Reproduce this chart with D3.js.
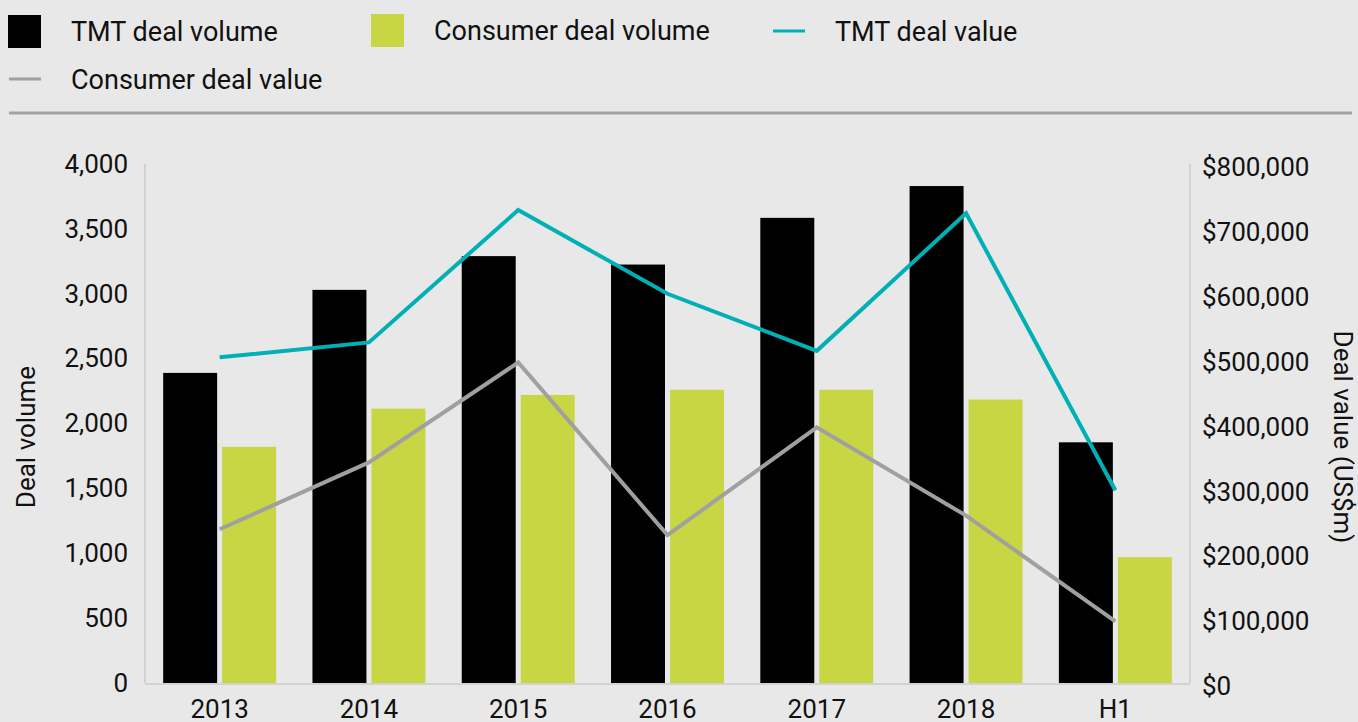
<!DOCTYPE html>
<html><head><meta charset="utf-8">
<script src="https://cdn.jsdelivr.net/npm/d3@7"></script>
<style>
html,body{margin:0;padding:0;background:#e8e8e8;}
svg{display:block;font-family:Roboto,"Noto Sans",sans-serif;}
</style></head>
<body>
<svg id="c" width="1358" height="722"></svg>
<script>
const categories = ["2013","2014","2015","2016","2017","2018","H1"];
const tmtVolume = [2390, 3030, 3290, 3225, 3585, 3830, 1855];
const consumerVolume = [1820, 2115, 2220, 2260, 2260, 2185, 970];
const tmtValue = [502000, 525000, 729000, 600000, 512000, 724000, 297000];
const consumerValue = [237000, 340000, 494000, 228000, 394000, 258000, 95000];
const leftTicks = [0,500,1000,1500,2000,2500,3000,3500,4000];
const rightTicks = [0,100000,200000,300000,400000,500000,600000,700000,800000];
const legendItems = [
  {label:"TMT deal volume", type:"rect", color:"#000000"},
  {label:"Consumer deal volume", type:"rect", color:"#c9d643"},
  {label:"TMT deal value", type:"line", color:"#00b0b5"},
  {label:"Consumer deal value", type:"line", color:"#a0a0a0"}
];

(function(){
const svg = d3.select("#c");
const W = 1358, H = 722;
svg.append("rect").attr("width",W).attr("height",H).attr("fill","#e8e8e8");

const pL = 145, pR = 1190, pT = 164, pB = 683;
const x = d3.scaleBand().domain(categories).range([pL,pR]).paddingInner(0).paddingOuter(0);
const yL = d3.scaleLinear().domain([0,4000]).range([pB,pT]);
const yR = d3.scaleLinear().domain([0,800000]).range([pB,pT]);
const inner = d3.scaleBand().domain(["tmt","con"]).range([0,x.bandwidth()]).paddingInner(0.085).paddingOuter(0.308);

// legend
const legPos = [[8,32],[371,31],[772,32],[8,80]];
legendItems.forEach((d,i)=>{
  const [lx,ly] = legPos[i];
  const g = svg.append("g");
  if(d.type==="rect"){
    g.append("rect").attr("x",lx).attr("y",ly-17).attr("width",33).attr("height",33).attr("fill",d.color);
  } else {
    g.append("line").attr("x1",lx+1).attr("x2",lx+33).attr("y1",ly-1).attr("y2",ly-1).attr("stroke",d.color).attr("stroke-width",3);
  }
  g.append("text").attr("x",lx+63).attr("y",ly).attr("dy","0.35em").attr("font-size",27).attr("fill","#111").text(d.label);
});
svg.append("line").attr("x1",9).attr("x2",1352).attr("y1",113).attr("y2",113).attr("stroke","#a3a3a3").attr("stroke-width",3);

// axes lines
const axisColor = "#d2d2d2";
svg.append("line").attr("x1",pL).attr("x2",pL).attr("y1",pT).attr("y2",pB).attr("stroke",axisColor).attr("stroke-width",2);
svg.append("line").attr("x1",pR).attr("x2",pR).attr("y1",pT).attr("y2",pB).attr("stroke",axisColor).attr("stroke-width",2);

// left axis
const gL = svg.append("g").attr("transform",`translate(${pL},0)`)
  .call(d3.axisLeft(yL).tickValues(leftTicks).tickFormat(d3.format(",")).tickSize(0).tickPadding(17));
gL.select(".domain").remove();
gL.selectAll("text").attr("font-size",26).attr("fill","#111").attr("font-family","Roboto");

const gR = svg.append("g").attr("transform",`translate(${pR},0)`)
  .call(d3.axisRight(yR).tickValues(rightTicks).tickFormat(d=>"$"+d3.format(",")(d)).tickSize(0).tickPadding(12));
gR.select(".domain").remove();
gR.selectAll("text").attr("font-size",26).attr("fill","#111").attr("font-family","Roboto").attr("dy","0.45em");

// bars
const groups = svg.append("g").selectAll("g").data(categories).join("g")
  .attr("transform",d=>`translate(${x(d)},0)`);
groups.append("rect").attr("x",inner("tmt")).attr("width",inner.bandwidth())
  .attr("y",(d,i)=>yL(tmtVolume[i])).attr("height",(d,i)=>pB-yL(tmtVolume[i])).attr("fill","#000");
groups.append("rect").attr("x",inner("con")).attr("width",inner.bandwidth())
  .attr("y",(d,i)=>yL(consumerVolume[i])).attr("height",(d,i)=>pB-yL(consumerVolume[i])).attr("fill","#c9d643");

// baseline
svg.append("line").attr("x1",pL).attr("x2",pR).attr("y1",pB+1).attr("y2",pB+1).attr("stroke",axisColor).attr("stroke-width",2);

// x axis
const gX = svg.append("g").attr("transform",`translate(0,${pB})`)
  .call(d3.axisBottom(x).tickSize(0).tickPadding(17));
gX.select(".domain").remove();
gX.selectAll("text").attr("font-size",26).attr("fill","#111").attr("font-family","Roboto");

// lines
const line = d3.line().x((d,i)=>x(categories[i])+x.bandwidth()/2).y(d=>yR(d));
svg.append("path").datum(consumerValue).attr("d",line).attr("fill","none").attr("stroke","#a0a0a0").attr("stroke-width",4);
svg.append("path").datum(tmtValue).attr("d",line).attr("fill","none").attr("stroke","#00b0b5").attr("stroke-width",4);

// axis titles
svg.append("text").attr("transform","translate(35,437) rotate(-90)").attr("text-anchor","middle")
  .attr("font-size",26).attr("fill","#111").text("Deal volume");
svg.append("text").attr("transform","translate(1334,437) rotate(90)").attr("text-anchor","middle")
  .attr("font-size",26).attr("fill","#111").text("Deal value (US$m)");
})();
</script>
</body></html>
